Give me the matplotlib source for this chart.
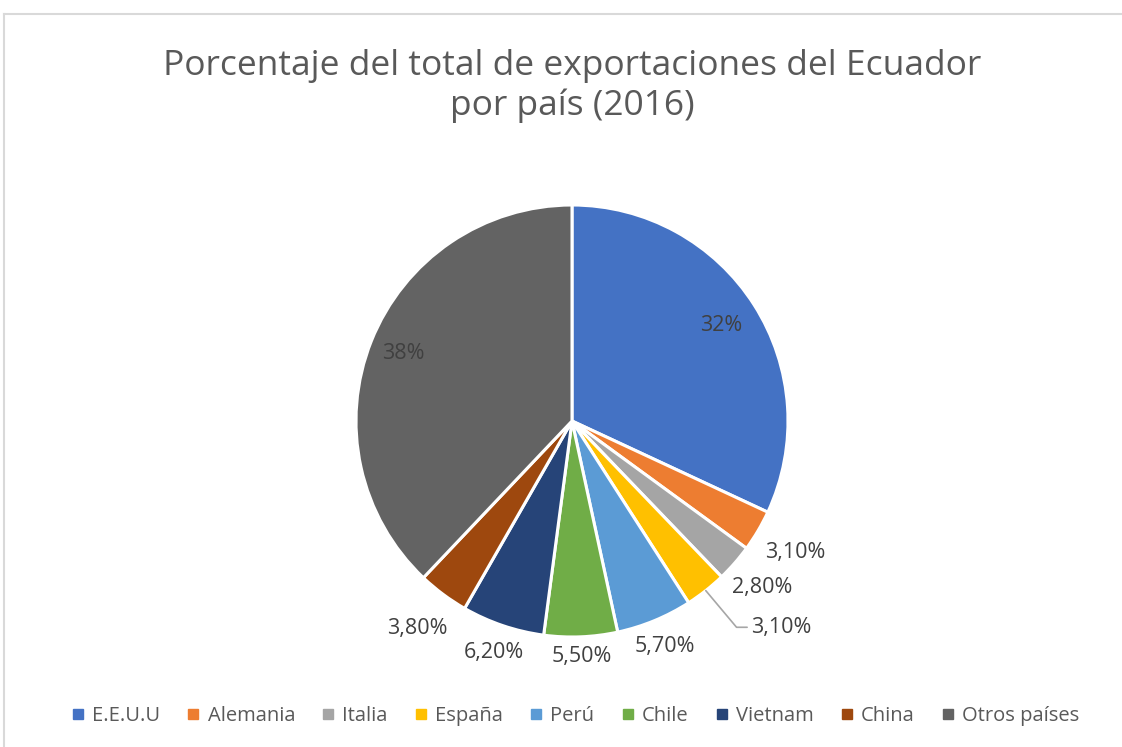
import matplotlib.pyplot as plt
from matplotlib.lines import Line2D
import numpy as np

paises = ['E.E.U.U', 'Alemania', 'Italia', 'España', 'Perú', 'Chile', 'Vietnam', 'China', 'Otros países']
valores = [32, 3.1, 2.8, 3.1, 5.7, 5.5, 6.2, 3.8, 38]
etiquetas = ['32%', '3,10%', '2,80%', '3,10%', '5,70%', '5,50%', '6,20%', '3,80%', '38%']
colores = ['#4472C4', '#ED7D31', '#A5A5A5', '#FFC000', '#5B9BD5',
           '#70AD47', '#264478', '#9E480E', '#636363']

plt.rcParams['font.family'] = ['Open Sans', 'DejaVu Sans']
W, H = 1122, 747
fig = plt.figure(figsize=(W / 100, H / 100), dpi=100)

# marco gris
fig.add_artist(Line2D([4 / W, 4 / W], [0, 1 - 14 / H], color='#d9d9d9', lw=1.5))
fig.add_artist(Line2D([4 / W, 1], [1 - 14 / H, 1 - 14 / H], color='#d9d9d9', lw=1.5))

cx, cy, r = 572, 421, 216
ax = fig.add_axes([(cx - r) / W, (H - cy - r) / H, 2 * r / W, 2 * r / H])
wedges, _ = ax.pie(valores, colors=colores, startangle=90, counterclock=False,
                   wedgeprops=dict(edgecolor='white', linewidth=2.2))
ax.set_xlim(-1, 1)
ax.set_ylim(-1, 1)
ax.set_aspect('equal')

dist = [0.82, 1.2, 1.17, None, 1.13, 1.09, 1.13, 1.2, 0.84]
for w, lab, d in zip(wedges, etiquetas, dist):
    ang = np.deg2rad((w.theta1 + w.theta2) / 2)
    if d is None:
        ax.annotate(lab, xy=(np.cos(ang), np.sin(ang)), xytext=(0.83, -0.955),
                    ha='left', va='center', fontsize=15.5, color='#404040',
                    arrowprops=dict(arrowstyle='-', color='#a6a6a6', lw=1.2,
                                    shrinkA=1, shrinkB=0,
                                    connectionstyle='angle,angleA=0,angleB=130,rad=0'))
    else:
        ax.text(d * np.cos(ang), d * np.sin(ang), lab, ha='center', va='center',
                fontsize=15.5, color='#404040')

fig.text(cx / W, 1 - 86 / H, 'Porcentaje del total de exportaciones del Ecuador\npor país (2016)',
         ha='center', va='center', fontsize=25.5, color='#595959', linespacing=1.22)

handles = [Line2D([], [], marker='s', ls='', color=c, markersize=7) for c in colores]
fig.legend(handles, paises, loc='center', bbox_to_anchor=(575 / W, 1 - 716 / H), ncol=9,
           frameon=False, fontsize=14.5, handlelength=0.7, handletextpad=0.35,
           columnspacing=1.3, labelcolor='#595959')

fig.savefig('out.png', dpi=100)
